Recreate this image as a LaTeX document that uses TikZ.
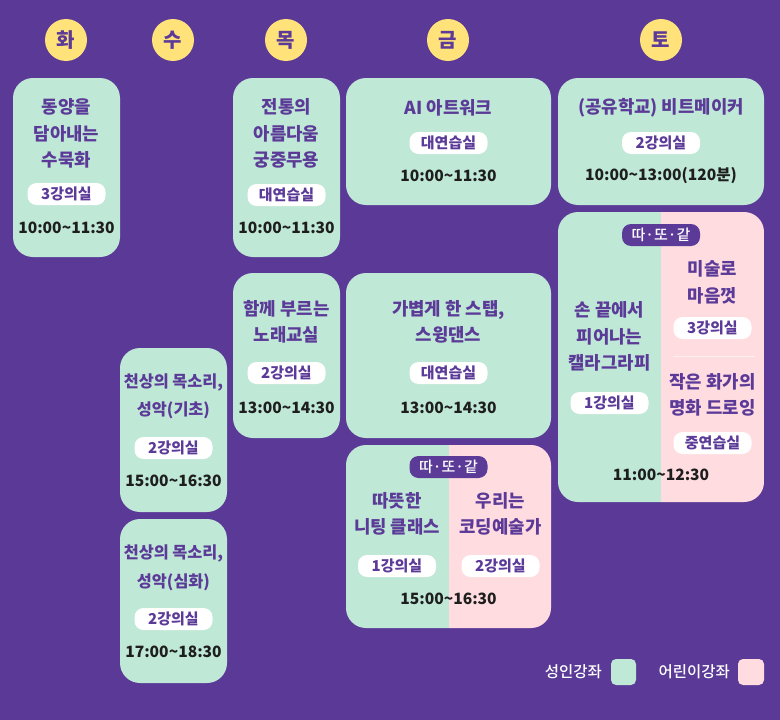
\documentclass[tikz,border=0pt]{standalone}
\usepackage{fontspec}
\setmainfont{Noto Sans CJK KR}
\newfontfamily\krmed{Noto Sans CJK KR Medium}
\definecolor{bg}{HTML}{5A3A96}
\definecolor{mint}{HTML}{BFE8D6}
\definecolor{pinkc}{HTML}{FFDCE0}
\definecolor{yel}{HTML}{FFE27A}
\definecolor{ptxt}{HTML}{5B3A98}
\definecolor{tdark}{HTML}{1E1E1E}
\tikzset{
  day/.style={circle, fill=yel, minimum size=42pt, inner sep=0pt, text=ptxt, font=\bfseries\fontsize{20}{20}\selectfont},
  ttl/.style={text=ptxt, align=center, inner sep=0pt, font=\bfseries\fontsize{17.8}{26.5}\selectfont},
  ttlsm/.style={ttl, font=\bfseries\fontsize{16.3}{28.5}\selectfont},
  room/.style={fill=white, rounded corners=9pt, minimum width=78pt, minimum height=22pt, inner sep=0pt, text=ptxt, font=\bfseries\fontsize{15}{15}\selectfont},
  tagbox/.style={room, fill=ptxt, text=white, font=\krmed\fontsize{15}{15}\selectfont},
  tm/.style={text=tdark, inner sep=0pt, font=\bfseries\fontsize{15.6}{15.6}\selectfont},
  card/.style={fill=mint, rounded corners=20pt},
  legtxt/.style={text=white, inner sep=0pt, font=\krmed\fontsize{15.5}{15.5}\selectfont},
}
\begin{document}
\begin{tikzpicture}[x=1pt, y=-1pt]
\fill[bg] (0,0) rectangle (780,720);
\useasboundingbox (0,0) rectangle (780,720);
% days
\node[day] (d1) at (66,40) {화};
\node[day] (d2) at (173,40) {수};
\node[day] (d3) at (286,40) {목};
\node[day] (d4) at (448,40) {금};
\node[day] (d5) at (661,40) {토};
% cards
\path[card] (13,78) rectangle (120,257);
\path[card] (233,78) rectangle (340,257);
\path[card] (346,78) rectangle (551,205);
\path[card] (558,78) rectangle (764,205);
\path[card] (233,273) rectangle (340,438);
\path[card] (346,273) rectangle (551,438);
\path[card] (120,348) rectangle (227,512);
\path[card] (120,519) rectangle (227,683);
\begin{scope}
  \clip[rounded corners=20pt] (558,212) rectangle (764,502);
  \fill[mint] (557,211) rectangle (661,503);
  \fill[pinkc] (661,211) rectangle (765,503);
\end{scope}
\begin{scope}
  \clip[rounded corners=20pt] (346,445) rectangle (551,628);
  \fill[mint] (345,444) rectangle (449,629);
  \fill[pinkc] (449,444) rectangle (552,629);
\end{scope}
% Tue
\node[ttl] (t1) at (66.5,133.5) {동양을\\담아내는\\수묵화};
\node[room] (r1) at (66.5,194) {3강의실};
\node[tm] (h1) at (66.5,228) {10:00\textasciitilde11:30};
% Thu top
\node[ttl] (t2) at (286.5,133.5) {전통의\\아름다움\\궁중무용};
\node[room] (r2) at (286.5,195) {대연습실};
\node[tm] (h2) at (286.5,228) {10:00\textasciitilde11:30};
% Fri top
\node[ttl] (t3) at (448.5,108) {AI 아트워크};
\node[room] (r3) at (448.5,143) {대연습실};
\node[tm] (h3) at (448.5,176) {10:00\textasciitilde11:30};
% Sat top
\node[ttl] (t4) at (661,108) {(공유학교) 비트메이커};
\node[room] (r4) at (661,143) {2강의실};
\node[tm] (h4) at (661,176) {10:00\textasciitilde13:00(120분)};
% Sat bottom
\node[tagbox] (g1) at (661,235) {따·또·같};
\node[ttl] (t5) at (609.5,336.5) {손 끝에서\\피어나는\\캘라그라피};
\node[room] (r5) at (609.5,403) {1강의실};
\node[ttl] (t6) at (712.5,282.5) {미술로\\마음껏};
\node[room] (r6) at (712.5,328) {3강의실};
\coordinate (s1) at (673,356);
\coordinate (s2) at (755,356);
\draw[white!55!pinkc, line width=1pt] (s1) -- (s2);
\node[ttl] (t7) at (712.5,395) {작은 화가의\\명화 드로잉};
\node[room] (r7) at (712.5,443) {중연습실};
\node[tm] (h5) at (661,475) {11:00\textasciitilde12:30};
% Thu 2nd
\node[ttl] (t8) at (286.5,322) {함께 부르는\\노래교실};
\node[room] (r8) at (286.5,373) {2강의실};
\node[tm] (h6) at (286.5,408) {13:00\textasciitilde14:30};
% Fri 2nd
\node[ttl] (t9) at (448.5,322) {가볍게 한 스탭,\\스윙댄스};
\node[room] (r9) at (448.5,373) {대연습실};
\node[tm] (h7) at (448.5,408) {13:00\textasciitilde14:30};
% Wed 1
\node[ttlsm] (t10) at (173.5,396.5) {천상의 목소리,\\성악(기초)};
\node[room] (r10) at (173.5,448) {2강의실};
\node[tm] (h8) at (173.5,481) {15:00\textasciitilde16:30};
% Wed 2
\node[ttlsm] (t11) at (173.5,568) {천상의 목소리,\\성악(심화)};
\node[room] (r11) at (173.5,619) {2강의실};
\node[tm] (h9) at (173.5,652) {17:00\textasciitilde18:30};
% Fri 3rd
\node[tagbox] (g2) at (448.5,467) {따·또·같};
\node[ttl] (t12) at (397,514) {따뜻한\\니팅 클래스};
\node[room] (r12) at (397,566) {1강의실};
\node[ttl] (t13) at (500.5,514) {우리는\\코딩예술가};
\node[room] (r13) at (500.5,566) {2강의실};
\node[tm] (h10) at (448.5,599) {15:00\textasciitilde16:30};
% legend
\node[legtxt, anchor=east] (l1) at (602,672) {성인강좌};
\path[fill=mint, rounded corners=5pt] (611,659) rectangle (636,685);
\node[legtxt, anchor=east] (l2) at (730,672) {어린이강좌};
\path[fill=pinkc, rounded corners=5pt] (738,659) rectangle (764,685);
\end{tikzpicture}
\end{document}
